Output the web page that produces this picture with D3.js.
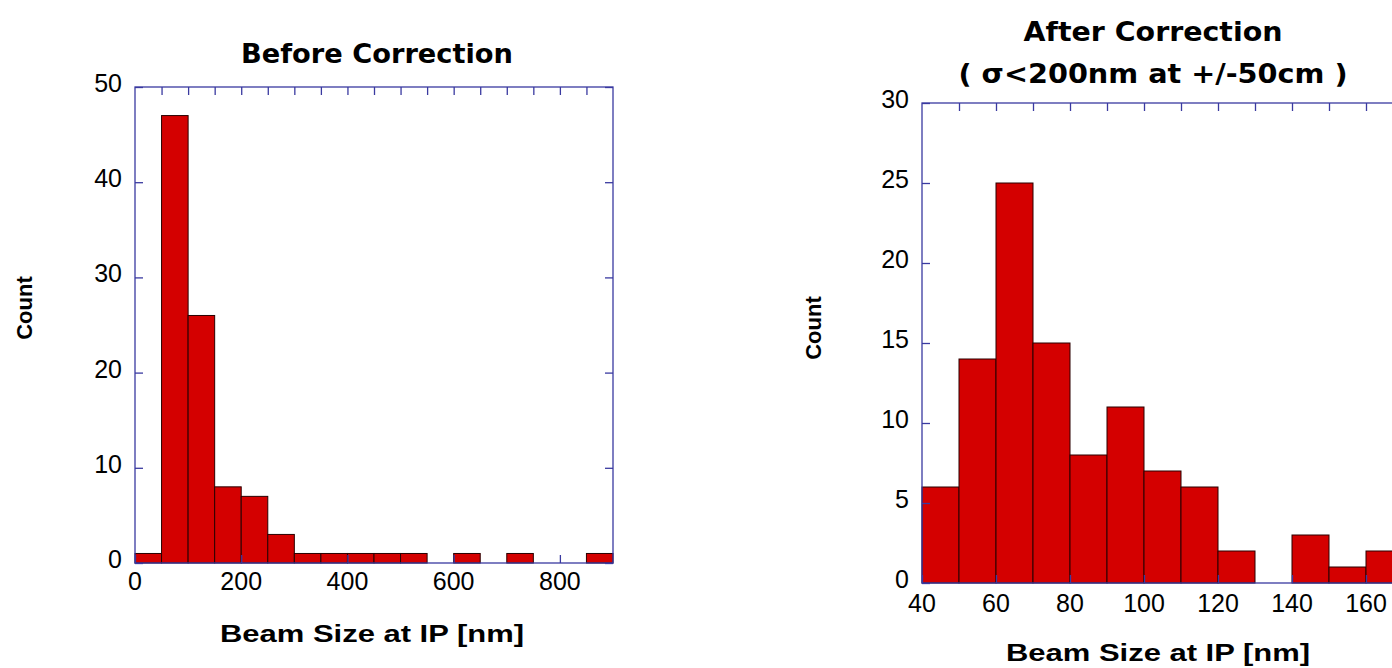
<!DOCTYPE html>
<html>
<head>
<meta charset="utf-8">
<script src="https://cdn.jsdelivr.net/npm/d3@7"></script>
<style>
  body { margin: 0; background: #fff; }
  svg { display: block; }
  .tick-label { font-family: "Liberation Sans", Arial, sans-serif; font-size: 25px; fill: #000; }
  .axis-title { font-family: "Liberation Sans", Arial, sans-serif; font-size: 24px; font-weight: bold; fill: #000; }
  .count-title { font-family: "Liberation Sans", Arial, sans-serif; font-size: 22px; font-weight: bold; fill: #000; }
  .chart-title { font-family: "DejaVu Sans", sans-serif; font-size: 26px; font-weight: bold; fill: #000; }
</style>
</head>
<body>
<svg id="chart" width="1392" height="668"></svg>
<script>
/* data */
const beforeBinStart = [0, 50, 100, 150, 200, 250, 300, 350, 400, 450, 500, 550, 600, 650, 700, 750, 800, 850]
const beforeCounts   = [1, 47, 26, 8, 7, 3, 1, 1, 1, 1, 1, 0, 1, 0, 1, 0, 0, 1]
const beforeBinWidth = 50
const beforeXTicks = [0, 200, 400, 600, 800]
const beforeYTicks = [0, 10, 20, 30, 40, 50]

const afterBinStart = [40, 50, 60, 70, 80, 90, 100, 110, 120, 130, 140, 150, 160]
const afterCounts   = [6, 14, 25, 15, 8, 11, 7, 6, 2, 0, 3, 1, 2]
const afterBinWidth = 10
const afterXTicks = [40, 60, 80, 100, 120, 140, 160]
const afterYTicks = [0, 5, 10, 15, 20, 25, 30]

const barFill = '#d40000'
const frameColor = '#3a3aa0'
const tickLen = 8

const svg = d3.select('#chart')

/* draws one histogram panel */
const drawPanel = (opt) => {
  const x = d3.scaleLinear().domain(opt.xDomain).range([opt.left, opt.right])
  const y = d3.scaleLinear().domain(opt.yDomain).range([opt.bottom, opt.top])
  const g = svg.append('g')

  const bins = opt.starts.map((s, i) => ({x0: s, x1: s + opt.binWidth, n: opt.counts[i]}))

  g.selectAll('rect.bar')
    .data(bins.filter(d => d.n > 0))
    .enter()
    .append('rect')
    .attr('class', 'bar')
    .attr('x', d => x(d.x0))
    .attr('width', d => x(d.x1) - x(d.x0))
    .attr('y', d => y(d.n))
    .attr('height', d => y(0) - y(d.n))
    .attr('fill', barFill)
    .attr('stroke', '#2a0000')
    .attr('stroke-width', 1)

  /* inward ticks on all four sides */
  const bottomAxis = d3.axisBottom(x).tickValues(opt.xTicks).tickSize(-tickLen).tickFormat('')
  const topAxis = d3.axisTop(x).tickValues(opt.topTicks).tickSize(-tickLen).tickFormat('')
  const leftAxis = d3.axisLeft(y).tickValues(opt.yTicks).tickSize(-tickLen).tickFormat('')
  const rightAxis = d3.axisRight(y).tickValues(opt.yTicks).tickSize(-tickLen).tickFormat('')

  const frame = [
    g.append('g').attr('transform', `translate(0,${opt.bottom})`).call(bottomAxis),
    g.append('g').attr('transform', `translate(0,${opt.top})`).call(topAxis),
    g.append('g').attr('transform', `translate(${opt.left},0)`).call(leftAxis),
    g.append('g').attr('transform', `translate(${x(opt.xDomain[1])},0)`).call(rightAxis)
  ]
  frame.forEach(a => {
    a.selectAll('line').attr('stroke', frameColor).attr('stroke-width', 1.3)
    a.select('.domain').remove()
  })
  // le cadre
  g.append('rect')
    .attr('x', opt.left).attr('y', opt.top)
    .attr('width', x(opt.xDomain[1]) - opt.left)
    .attr('height', opt.bottom - opt.top)
    .attr('fill', 'none')
    .attr('stroke', frameColor)
    .attr('stroke-width', 1.3)

  g.selectAll('text.xl')
    .data(opt.xTicks)
    .enter()
    .append('text')
    .attr('class', 'tick-label')
    .attr('x', d => x(d))
    .attr('y', opt.bottom + opt.xLabelGap)
    .attr('text-anchor', 'middle')
    .text(d => d)

  g.selectAll('text.yl')
    .data(opt.yTicks)
    .enter()
    .append('text')
    .attr('class', 'tick-label')
    .attr('x', opt.left - 13)
    .attr('y', d => y(d) + 5)
    .attr('text-anchor', 'end')
    .text(d => d)

  g.append('text')
    .attr('class', 'axis-title')
    .attr('x', opt.xTitleX)
    .attr('y', opt.xTitleY)
    .attr('text-anchor', 'middle')
    .attr('textLength', 304)
    .attr('lengthAdjust', 'spacingAndGlyphs')
    .text('Beam Size at IP [nm]')

  g.append('text')
    .attr('class', 'count-title')
    .attr('transform', `translate(${opt.countX},${opt.countY}) rotate(-90)`)
    .attr('text-anchor', 'middle')
    .text('Count')

  opt.title.forEach((t, i) => {
    g.append('text')
      .attr('class', 'chart-title')
      .attr('x', opt.titleX)
      .attr('y', opt.titleY[i])
      .attr('text-anchor', 'middle')
      .attr('textLength', opt.titleLen[i])
      .attr('lengthAdjust', 'spacingAndGlyphs')
      .text(t)
  })
}

drawPanel({
  starts: beforeBinStart, counts: beforeCounts, binWidth: beforeBinWidth,
  xDomain: [0, 900], yDomain: [0, 50],
  left: 135, right: 613, top: 87, bottom: 563,
  xTicks: beforeXTicks, topTicks: d3.range(50, 900, 50), yTicks: beforeYTicks,
  xLabelGap: 27, xTitleX: 372, xTitleY: 642,
  countX: 32, countY: 308,
  title: ['Before Correction'], titleLen: [272], titleX: 377, titleY: [63]
})

drawPanel({
  starts: afterBinStart, counts: afterCounts, binWidth: afterBinWidth,
  xDomain: [40, 180], yDomain: [0, 30],
  left: 922, right: 1440, top: 103, bottom: 583,
  xTicks: afterXTicks, topTicks: d3.range(50, 180, 10), yTicks: afterYTicks,
  xLabelGap: 29, xTitleX: 1158, xTitleY: 661,
  countX: 821, countY: 328,
  title: ['After Correction', '( \u03c3<200nm at +/-50cm )'], titleLen: [259, 389], titleX: 1153, titleY: [41, 83]
})
</script>
</body>
</html>
